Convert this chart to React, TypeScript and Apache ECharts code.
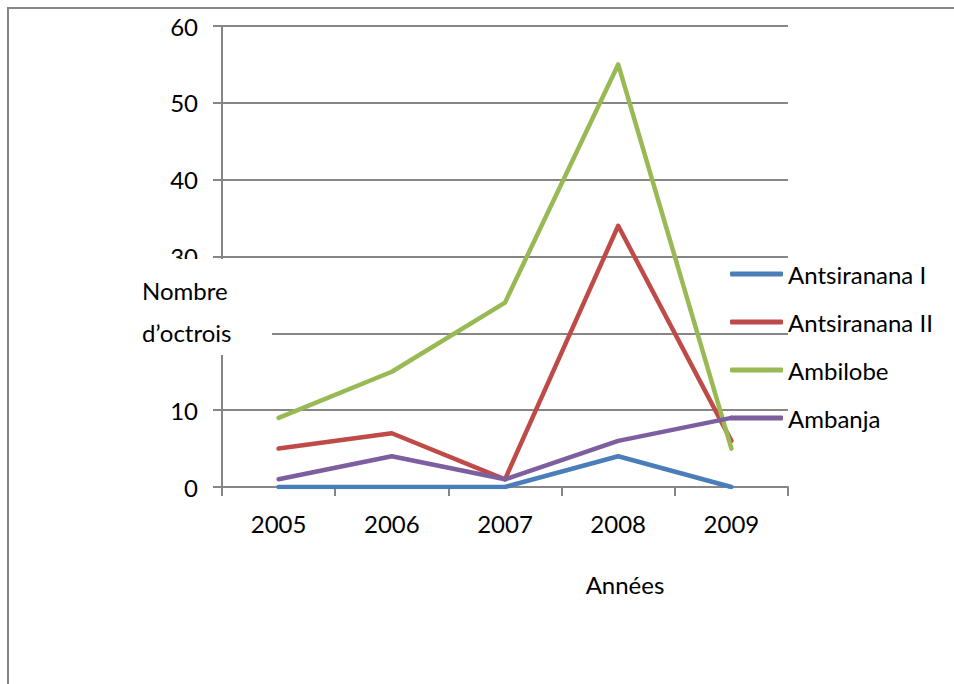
import React, { useEffect, useRef } from "react";
import * as echarts from "echarts";

const years = ["2005", "2006", "2007", "2008", "2009"];
const seriesNames = ["Antsiranana I", "Antsiranana II", "Ambilobe", "Ambanja"];
const antsirananaI = [0, 0, 0, 4, 0];
const antsirananaII = [5, 7, 1, 34, 6];
const ambilobe = [9, 15, 24, 55, 5];
const ambanja = [1, 4, 1, 6, 9];
const colors = ["#4A7EBB", "#BE4B48", "#98B954", "#7D5FA0"];

const FONT = "Lato, 'Open Sans', sans-serif";
const FS = 24;

export default function App() {
  const ref = useRef<HTMLDivElement>(null);

  useEffect(() => {
    if (!ref.current) return;
    const chart = echarts.init(ref.current, undefined, { renderer: "svg" });
    const values = [antsirananaI, antsirananaII, ambilobe, ambanja];

    chart.setOption({
      animation: false,
      backgroundColor: "#ffffff",
      textStyle: { fontFamily: FONT, color: "#000" },
      grid: { left: 222, right: 166, top: 26, bottom: 197, containLabel: false },
      xAxis: {
        type: "category",
        data: years,
        boundaryGap: true,
        axisLine: { show: true, lineStyle: { color: "#868686", width: 2 } },
        axisTick: { show: true, length: 9, alignWithLabel: false, lineStyle: { color: "#868686", width: 2 } },
        axisLabel: { color: "#000", fontSize: FS, margin: 24, fontFamily: FONT },
        splitLine: { show: false },
      },
      yAxis: {
        type: "value",
        min: 0,
        max: 60,
        interval: 10,
        axisLine: { show: true, lineStyle: { color: "#868686", width: 2 } },
        axisTick: { show: true, length: 9, lineStyle: { color: "#868686", width: 2 } },
        axisLabel: {
          color: "#000",
          fontSize: FS,
          margin: 24,
          fontFamily: FONT,
          // the "20" label sits under the axis title box
          formatter: (v: number) => (v === 20 ? "" : String(v)),
        },
        splitLine: { show: true, lineStyle: { color: "#868686", width: 2 } },
      },
      legend: {
        orient: "vertical",
        left: 730,
        top: 262,
        padding: 0,
        itemWidth: 53,
        itemHeight: 5,
        itemGap: 24,
        icon: "roundRect",
        data: seriesNames,
        textStyle: { color: "#000", fontSize: FS, fontFamily: FONT },
      },
      series: seriesNames.map((name, i) => ({
        name,
        type: "line",
        data: values[i],
        symbol: "none",
        color: colors[i],
        lineStyle: { width: 4.5, color: colors[i], cap: "round", join: "round" },
        z: 3 + i,
      })),
      graphic: [
        {
          type: "rect",
          shape: { x: 8, y: 8, width: 1000, height: 740 },
          style: { fill: "none", stroke: "#868686", lineWidth: 2 },
          silent: true,
          z: 0,
        },
        {
          type: "rect",
          shape: { x: 135, y: 259, width: 137, height: 96 },
          style: { fill: "#ffffff" },
          silent: true,
          z: 10,
        },
        {
          type: "text",
          x: 142,
          y: 311,
          style: {
            text: "Nombre\nd’octrois",
            fontSize: FS,
            fontFamily: FONT,
            fill: "#000",
            lineHeight: 42,
            verticalAlign: "middle",
          },
          silent: true,
          z: 11,
        },
        {
          type: "text",
          x: 625,
          y: 584,
          style: {
            text: "Années",
            fontSize: FS,
            fontFamily: FONT,
            fill: "#000",
            align: "center",
            verticalAlign: "middle",
          },
          silent: true,
          z: 11,
        },
      ],
    });

    return () => chart.dispose();
  }, []);

  return (
    <div
      ref={ref}
      style={{ position: "fixed", left: 0, top: 0, width: 954, height: 684 }}
    />
  );
}
